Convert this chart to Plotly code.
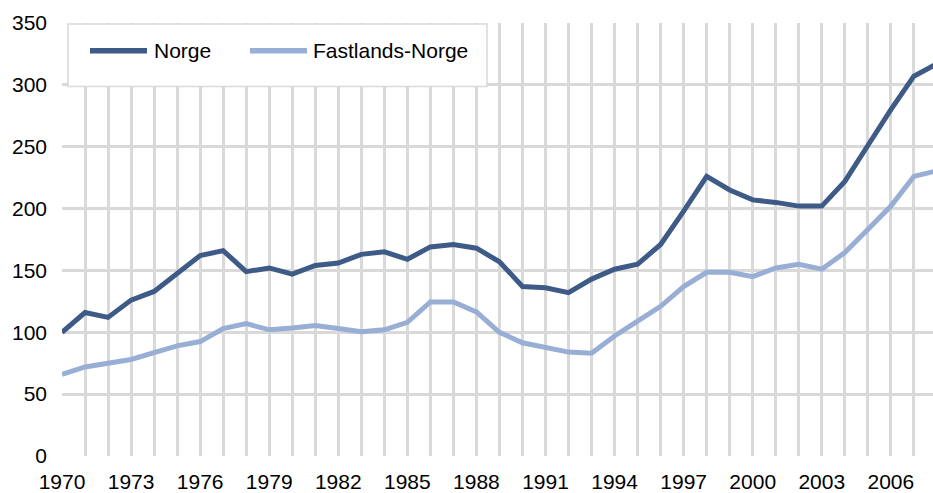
import plotly.graph_objects as go

years = list(range(1970, 2009))
norge = [100, 116, 112, 126, 133, 147, 162, 166, 149, 152, 147, 154, 156, 163, 165, 159, 169, 171, 168, 157,
         137, 136, 132, 143, 151, 155, 171, 198, 226, 215, 207, 205, 202, 202, 222, 251, 280, 307, 317]
fastland = [66, 72, 75, 78, 83.5, 89, 92.5, 103, 107, 102, 103.5, 105.5, 103, 100.5, 102, 108, 124.5, 124.5, 116.5, 100,
            91.5, 88, 84, 83, 97, 109, 121, 137, 148.5, 148.5, 145, 152, 155, 151, 164.5, 183, 202, 226, 230.5]
series_names = ["Norge", "Fastlands-Norge"]
colors = ["#3E5A86", "#98AED4"]
x_ticks = list(range(1970, 2007, 3))
y_ticks = [0, 50, 100, 150, 200, 250, 300, 350]

GRID = "#D9D9D9"
FONT = "Liberation Sans, Arial, sans-serif"

fig = go.Figure()
for name, vals, col in zip(series_names, [norge, fastland], colors):
    fig.add_trace(go.Scatter(x=years, y=vals, mode="lines", name=name,
                             line=dict(color=col, width=5), showlegend=False,
                             cliponaxis=True))

W, H = 933, 493
L, R, T, B = 62, 0, 23, 34
pw, ph = W - L - R, H - T - B

def px(x):
    return (x - L) / pw

def py(y):
    return 1 - (y - T) / ph

# manual legend
fig.add_shape(type="rect", xref="paper", yref="paper", x0=px(68), x1=px(487), y0=py(87), y1=py(24),
              line=dict(color=GRID, width=1.5), fillcolor="white", layer="above")
legend_items = [(90, 147, 152), (250, 307, 311)]
for (x0, x1, tx), name, col in zip(legend_items, series_names, colors):
    fig.add_shape(type="line", xref="paper", yref="paper", x0=px(x0), x1=px(x1), y0=py(51), y1=py(51),
                  line=dict(color=col, width=5.5), layer="above")
    fig.add_annotation(xref="paper", yref="paper", x=px(tx), y=py(51), text=name, showarrow=False,
                       xanchor="left", yanchor="middle", font=dict(family=FONT, size=21, color="black"))

fig.update_layout(
    width=W, height=H,
    margin=dict(l=L, r=R, t=T, b=B, pad=0),
    paper_bgcolor="white", plot_bgcolor="white",
    font=dict(family=FONT, size=21, color="black"),
    xaxis=dict(range=[1970, 2007.83], tickvals=x_ticks, ticktext=[str(v) for v in x_ticks],
               showgrid=True, gridcolor=GRID, gridwidth=3, zeroline=False,
               showline=False, ticks="", ticklabelstandoff=11,
               minor=dict(dtick=1, tick0=1970, showgrid=True, gridcolor=GRID, gridwidth=3)),
    yaxis=dict(range=[0, 350], tickvals=y_ticks, showgrid=True, gridcolor=GRID, gridwidth=3,
               zeroline=False, showline=False, ticks="", ticklabelstandoff=14),
)

fig.write_html("out.html", config={"displayModeBar": False},
               post_script="document.body.style.margin='0px';document.body.style.overflow='hidden';")
